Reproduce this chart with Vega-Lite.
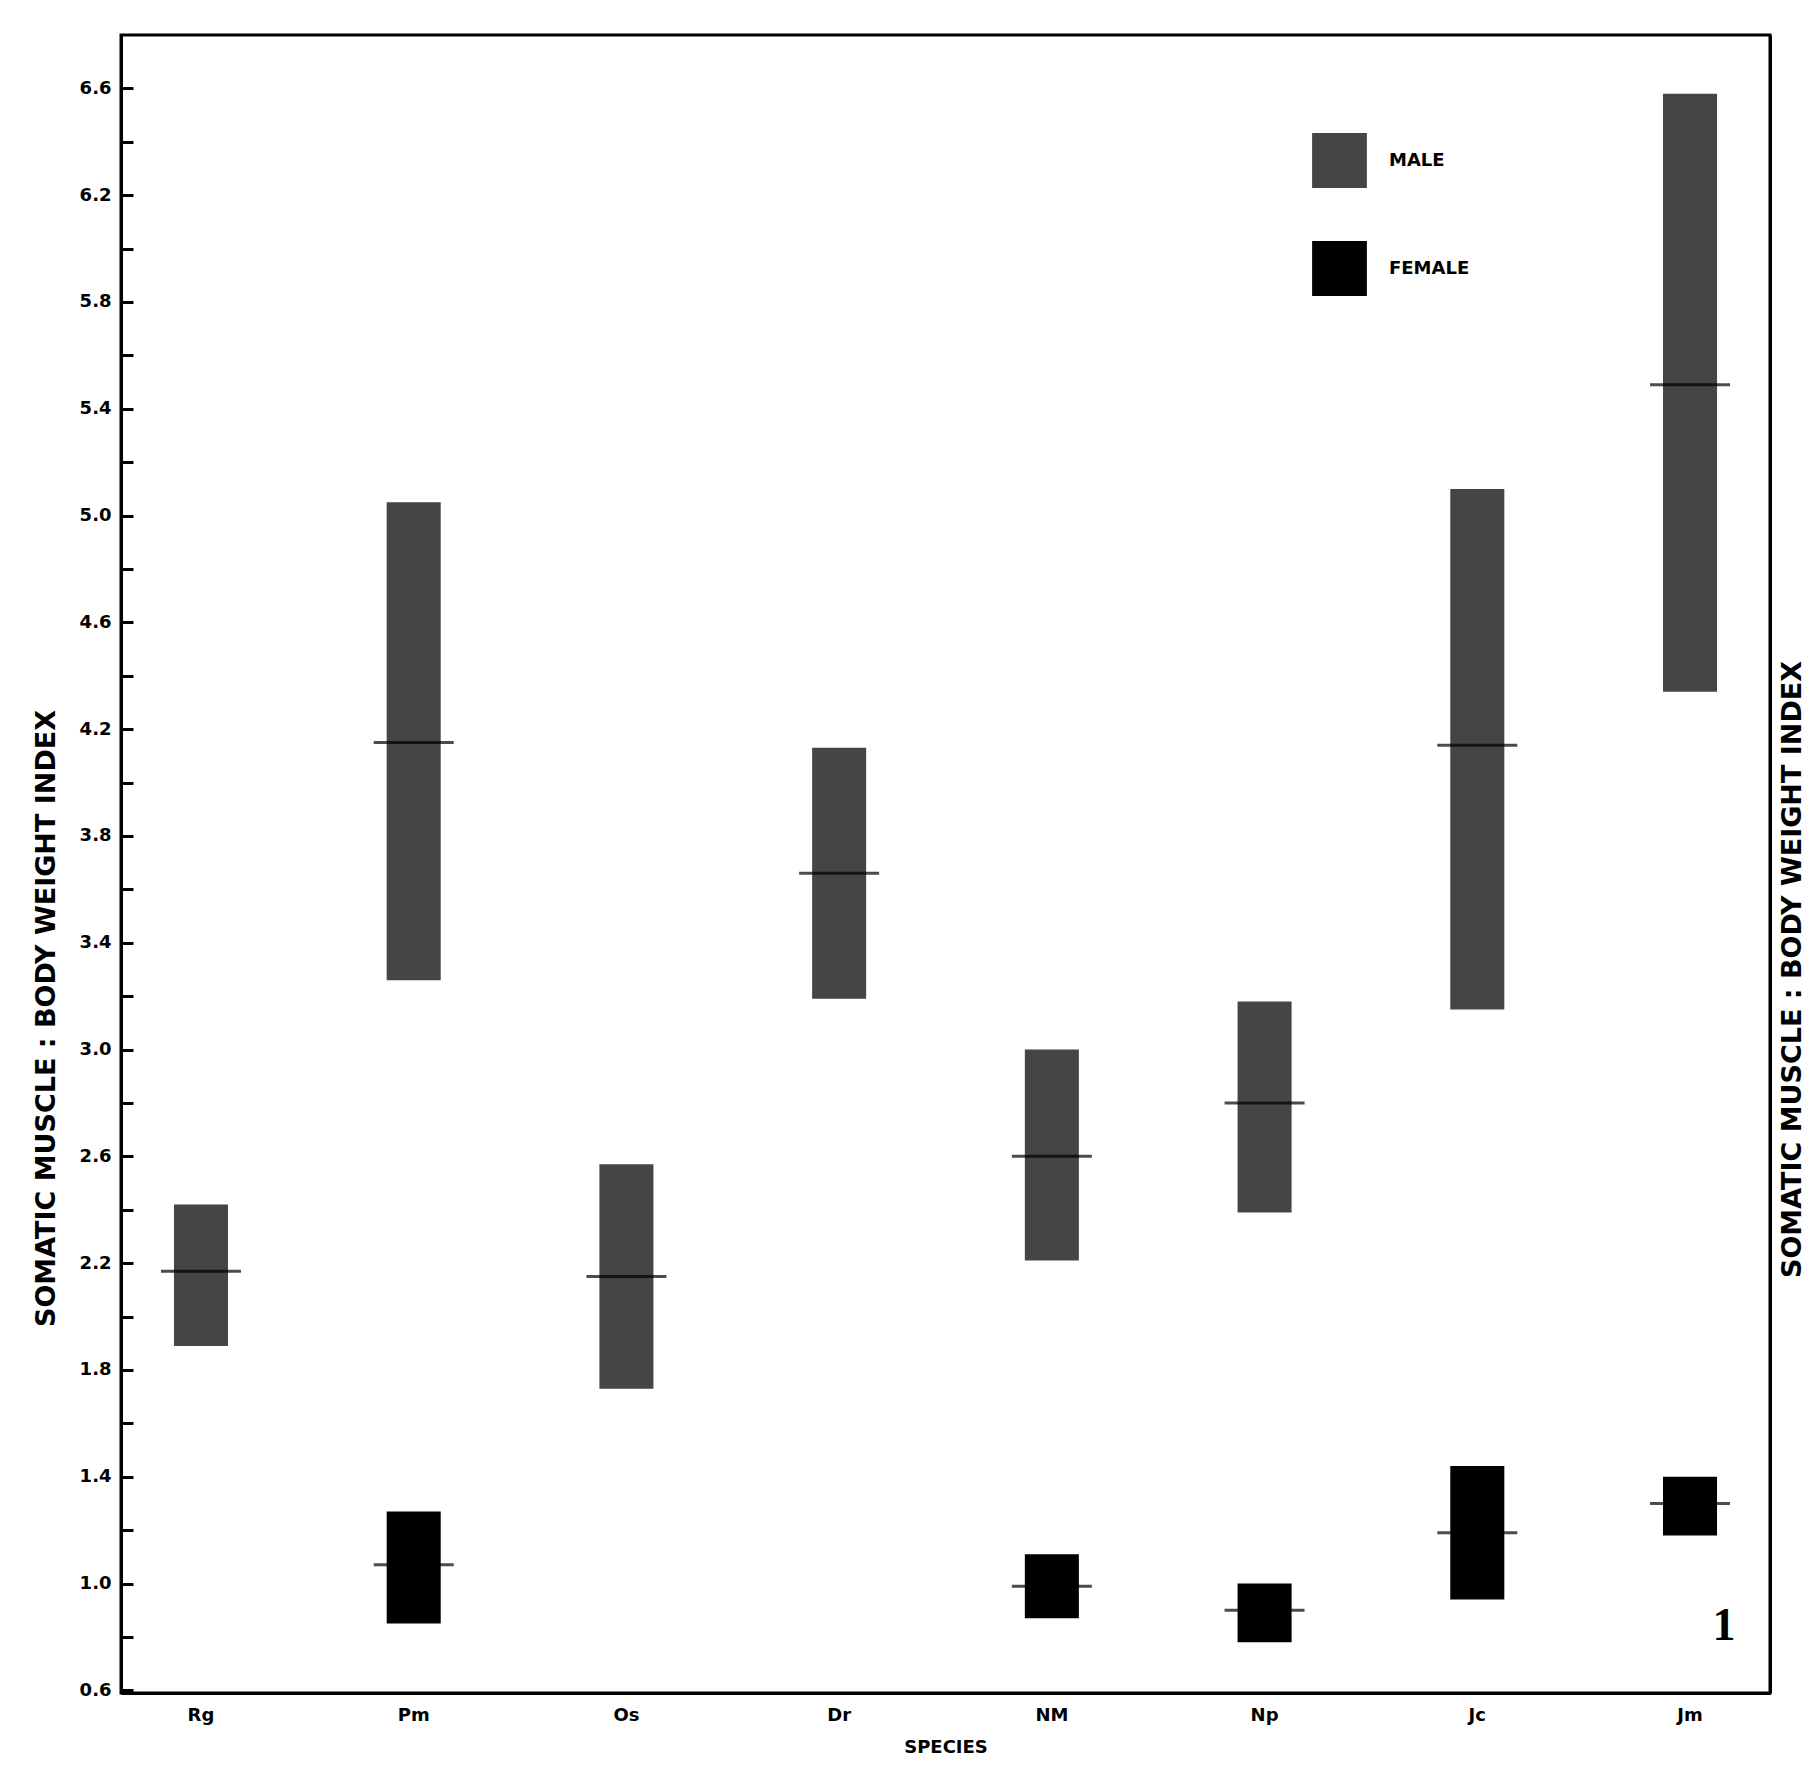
{
  "$schema": "https://vega.github.io/schema/vega-lite/v6.json",
  "width": 1649,
  "height": 1658,
  "autosize": {"type": "none"},
  "padding": {"left": 121, "top": 35, "right": 38, "bottom": 72},
  "background": "white",
  "config": {
    "view": {"stroke": "black", "strokeWidth": 3},
    "font": "DejaVu Sans"
  },
  "data": {
    "values": [
      {"species": "Rg", "sex": "MALE", "low": 1.89, "high": 2.42, "mean": 2.17},
      {"species": "Pm", "sex": "MALE", "low": 3.26, "high": 5.05, "mean": 4.15},
      {"species": "Os", "sex": "MALE", "low": 1.73, "high": 2.57, "mean": 2.15},
      {"species": "Dr", "sex": "MALE", "low": 3.19, "high": 4.13, "mean": 3.66},
      {"species": "NM", "sex": "MALE", "low": 2.21, "high": 3.0, "mean": 2.6},
      {"species": "Np", "sex": "MALE", "low": 2.39, "high": 3.18, "mean": 2.8},
      {"species": "Jc", "sex": "MALE", "low": 3.15, "high": 5.1, "mean": 4.14},
      {"species": "Jm", "sex": "MALE", "low": 4.34, "high": 6.58, "mean": 5.49},
      {"species": "Pm", "sex": "FEMALE", "low": 0.85, "high": 1.27, "mean": 1.07},
      {"species": "NM", "sex": "FEMALE", "low": 0.87, "high": 1.11, "mean": 0.99},
      {"species": "Np", "sex": "FEMALE", "low": 0.78, "high": 1.0, "mean": 0.9},
      {"species": "Jc", "sex": "FEMALE", "low": 0.94, "high": 1.44, "mean": 1.19},
      {"species": "Jm", "sex": "FEMALE", "low": 1.18, "high": 1.4, "mean": 1.3}
    ]
  },
  "encoding": {
    "x": {
      "field": "species",
      "type": "nominal",
      "scale": {
        "domain": ["Rg", "Pm", "Os", "Dr", "NM", "Np", "Jc", "Jm"],
        "paddingInner": 0.746,
        "paddingOuter": 0.249
      },
      "axis": {
        "title": "SPECIES",
        "labelAngle": 0,
        "ticks": false,
        "domain": true,
        "domainWidth": 3,
        "domainColor": "black",
        "labelColor": "black",
        "labelFontSize": 18,
        "labelFontWeight": "bold",
        "labelPadding": 13,
        "titleColor": "black",
        "titleFontSize": 18,
        "titleFontWeight": "bold",
        "titlePadding": 14
      }
    }
  },
  "layer": [
    {
      "mark": {"type": "bar", "strokeWidth": 0},
      "encoding": {
        "y": {
          "field": "low",
          "type": "quantitative",
          "scale": {"domain": [0.59, 6.8], "nice": false, "zero": false},
          "axis": {
            "orient": "left",
            "grid": false,
            "values": [0.6, 0.8, 1.0, 1.2, 1.4, 1.6, 1.8, 2.0, 2.2, 2.4, 2.6, 2.8, 3.0, 3.2, 3.4, 3.6, 3.8, 4.0, 4.2, 4.4, 4.6, 4.8, 5.0, 5.2, 5.4, 5.6, 5.8, 6.0, 6.2, 6.4, 6.6],
            "labelExpr": "indexof(['0.6','1.0','1.4','1.8','2.2','2.6','3.0','3.4','3.8','4.2','4.6','5.0','5.4','5.8','6.2','6.6'], format(datum.value, '.1f')) >= 0 ? format(datum.value, '.1f') : ''",
            "labelOverlap": false,
            "labelBound": false,
            "labelFlush": false,
            "tickSize": -12,
            "tickWidth": 3,
            "tickColor": "black",
            "domainColor": "black",
            "domainWidth": 3,
            "labelColor": "black",
            "labelFontSize": 18,
            "labelFontWeight": "bold",
            "labelPadding": 22,
            "title": "SOMATIC MUSCLE : BODY WEIGHT INDEX",
            "titleColor": "black",
            "titleFontSize": 27,
            "titleFontWeight": "bold",
            "titleAngle": 270,
            "titleBaseline": "middle",
            "titleX": -75,
            "titleY": 983
          }
        },
        "y2": {"field": "high"},
        "color": {
          "field": "sex",
          "type": "nominal",
          "scale": {"domain": ["MALE", "FEMALE"], "range": ["#454545", "#000000"]},
          "legend": {
            "title": null,
            "orient": "none",
            "legendX": 1191,
            "legendY": 98,
            "padding": 0,
            "symbolType": "square",
            "symbolSize": 3000,
            "symbolStrokeWidth": 0,
            "rowPadding": 53,
            "labelColor": "black",
            "labelFontSize": 18,
            "labelFontWeight": "bold",
            "labelOffset": 22
          }
        }
      }
    },
    {
      "mark": {"type": "tick", "color": "black", "size": 80, "thickness": 3},
      "encoding": {
        "y": {
          "field": "mean",
          "type": "quantitative",
          "axis": {
            "orient": "right",
            "grid": false,
            "labels": false,
            "ticks": false,
            "domain": true,
            "domainWidth": 3,
            "domainColor": "black",
            "title": "SOMATIC MUSCLE : BODY WEIGHT INDEX",
            "titleColor": "black",
            "titleFontSize": 27,
            "titleFontWeight": "bold",
            "titleAngle": 270,
            "titleBaseline": "middle",
            "titleX": 22,
            "titleY": 934
          }
        }
      }
    },
    {
      "data": {"values": [{"species": "Jm", "figure": "1"}]},
      "mark": {"type": "text", "font": "Liberation Serif", "fontWeight": "bold", "fontSize": 46, "color": "black", "dx": 34},
      "encoding": {
        "y": {"datum": 0.84, "axis": null},
        "text": {"field": "figure"}
      }
    }
  ],
  "resolve": {"axis": {"y": "independent"}}
}
